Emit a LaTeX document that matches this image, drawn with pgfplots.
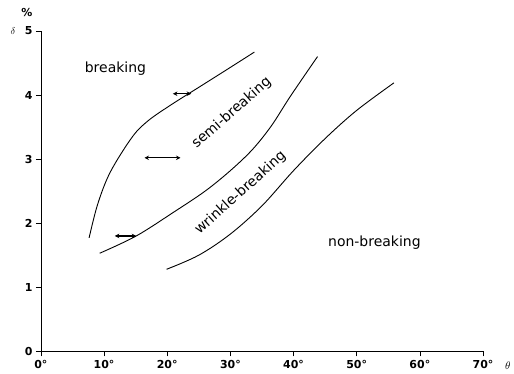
\documentclass[border=0pt]{standalone}
\usepackage{pgfplots}
\pgfplotsset{compat=1.18}
\usepackage{fontspec}
\setmainfont{DejaVu Sans}
\usetikzlibrary{arrows.meta}

\begin{document}
\begin{tikzpicture}
\begin{axis}[
  width=443pt, height=321pt, scale only axis,
  xmin=0, xmax=70, ymin=0, ymax=5,
  axis x line=bottom, axis y line=left,
  axis line style={-, line width=0.8pt},
  xtick={0,10,...,70}, ytick={0,1,...,5},
  xticklabels={\textbf{0°},\textbf{10°},\textbf{20°},\textbf{30°},\textbf{40°},\textbf{50°},\textbf{60°},\textbf{70°}},
  yticklabels={\textbf{0},\textbf{1},\textbf{2},\textbf{3},\textbf{4},\textbf{5}},
  tick label style={font=\fontsize{11}{13}\selectfont},
  tick align=outside, major tick length=5pt,
  tick style={black, line width=0.7pt},
  clip=false,
  every axis plot/.append style={black, line width=0.9pt},
]
% breaking / semi-breaking boundary
\addplot[smooth, tension=0.55] coordinates {
  (7.63,1.77) (9,2.3) (11,2.8) (14.5,3.35) (17,3.6) (20.5,3.84)
  (25,4.12) (29.5,4.4) (33.8,4.67)};
% semi-breaking / wrinkle-breaking boundary
\addplot[smooth, tension=0.55] coordinates {
  (9.3,1.53) (15.1,1.8) (21,2.17) (26,2.5) (30,2.82) (33.5,3.15)
  (36.5,3.52) (39.5,3.98) (43.8,4.6)};
% wrinkle-breaking / non-breaking boundary
\addplot[smooth, tension=0.55] coordinates {
  (19.9,1.28) (25,1.5) (30,1.83) (35,2.27) (40,2.82) (45,3.32)
  (50,3.76) (55.9,4.19)};
% scatter ranges of the transition angle
\addplot[{Stealth[length=4.5pt,width=4.5pt]}-{Stealth[length=4.5pt,width=4.5pt]}, line width=1.2pt] coordinates {(20.9,4.02) (23.8,4.02)};
\addplot[{Stealth[length=4.5pt,width=4.5pt]}-{Stealth[length=4.5pt,width=4.5pt]}, line width=1.2pt] coordinates {(16.4,3.02) (22.1,3.02)};
\addplot[{Stealth[length=4.5pt,width=4.5pt]}-{Stealth[length=4.5pt,width=4.5pt]}, line width=1.2pt] coordinates {(11.7,1.8) (15.1,1.8)};
% region names
\node[font=\fontsize{14}{16}\selectfont] at (axis cs:11.8,4.41) {breaking};
\node[font=\fontsize{14}{16}\selectfont, rotate=41] at (axis cs:30.2,3.72) {semi-breaking};
\node[font=\fontsize{14}{16}\selectfont, rotate=42] at (axis cs:31.6,2.47) {wrinkle-breaking};
\node[font=\fontsize{14}{16}\selectfont] at (axis cs:52.8,1.7) {non-breaking};
% axis symbols
\node[font=\bfseries\fontsize{11}{13}\selectfont] at (rel axis cs:0,1) [xshift=-14pt, yshift=18pt] {\%};
\node[font=\fontsize{10}{12}\selectfont] at (rel axis cs:0,1) [xshift=-28pt] {$\delta$};
\node[font=\fontsize{11}{13}\selectfont] at (rel axis cs:1,0) [xshift=25pt, yshift=-14pt] {$\theta$};
% page margins around the axis
\path (rel axis cs:0,1) ++(-41pt,31pt);
\path (rel axis cs:1,0) ++(30pt,-22pt);
\end{axis}
\end{tikzpicture}
\end{document}
